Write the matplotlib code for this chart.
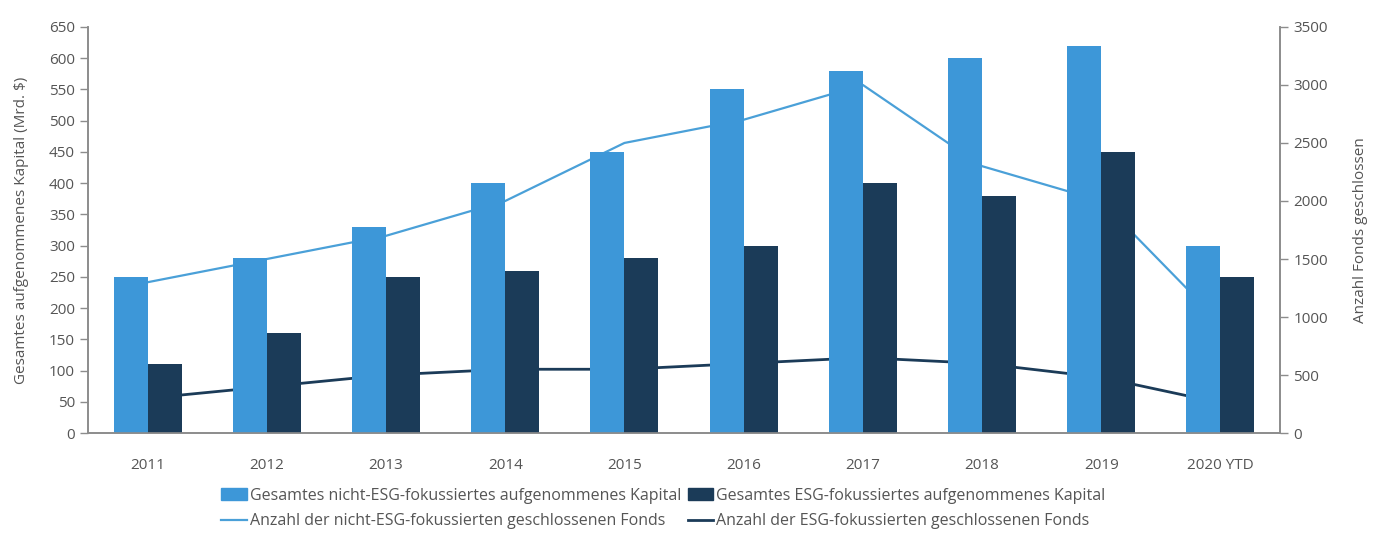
import numpy as np
import matplotlib.pyplot as plt
from matplotlib.patches import Patch
from matplotlib.lines import Line2D

# Daten
jahre = ["2011", "2012", "2013", "2014", "2015", "2016", "2017", "2018", "2019", "2020 YTD"]
kapital_nicht_esg = [250, 280, 330, 400, 450, 550, 580, 600, 620, 300]
kapital_esg = [110, 160, 250, 260, 280, 300, 400, 380, 450, 250]
fonds_nicht_esg = [1300, 1500, 1700, 2000, 2500, 2700, 3000, 2300, 2000, 950]
fonds_esg = [300, 400, 500, 550, 550, 600, 650, 600, 480, 260]

hellblau = "#3d97d8"
dunkelblau = "#1b3b58"
grau = "#8c8c8c"
textfarbe = "#555555"

plt.rcParams['font.family'] = ['Open Sans', 'DejaVu Sans']

fig = plt.figure(figsize=(13.82, 5.38), dpi=100)
ax = fig.add_axes([0.0637, 0.195, 0.8625, 0.755])
ax2 = ax.twinx()

x = np.arange(len(jahre))
breite = 0.285

# Linien hinter den Balken
ax2.plot(x, fonds_nicht_esg, color="#4aa0d8", linewidth=1.6, zorder=1)
ax2.plot(x, fonds_esg, color=dunkelblau, linewidth=2.0, zorder=1)
ax2.set_zorder(0)
ax.set_zorder(1)
ax.patch.set_visible(False)

ax.bar(x - breite / 2, kapital_nicht_esg, width=breite, color=hellblau, zorder=2)
ax.bar(x + breite / 2, kapital_esg, width=breite, color=dunkelblau, zorder=2)

ax.set_xlim(-0.5, len(jahre) - 0.5)
ax.set_ylim(0, 650)
ax.set_yticks(np.arange(0, 651, 50))
ax2.set_ylim(0, 3500)
ax2.set_yticks(np.arange(0, 3501, 500))

ax.set_xticks(x)
ax.set_xticklabels(jahre)

for a in (ax, ax2):
    a.spines["top"].set_visible(False)
    for s in ["left", "right", "bottom"]:
        a.spines[s].set_color(grau)
        a.spines[s].set_linewidth(1.2)
    a.tick_params(axis="y", colors=grau, labelcolor=textfarbe, labelsize=11, length=6, width=1)
ax.tick_params(axis="x", length=0, labelsize=11, labelcolor=textfarbe, pad=18)

ax.set_ylabel("Gesamtes aufgenommenes Kapital (Mrd. $)", fontsize=11, color=textfarbe, labelpad=14)
ax2.set_ylabel("Anzahl Fonds geschlossen", fontsize=11, color=textfarbe, labelpad=18)

handles = [
    Patch(color=hellblau),
    Line2D([], [], color="#4aa0d8", linewidth=1.6),
    Patch(color=dunkelblau),
    Line2D([], [], color=dunkelblau, linewidth=2.0),
]
labels = [
    "Gesamtes nicht-ESG-fokussiertes aufgenommenes Kapital",
    "Anzahl der nicht-ESG-fokussierten geschlossenen Fonds",
    "Gesamtes ESG-fokussiertes aufgenommenes Kapital",
    "Anzahl der ESG-fokussierten geschlossenen Fonds",
]
fig.legend(handles, labels, ncol=2, loc="center", bbox_to_anchor=(0.48, 0.055),
           frameon=False, fontsize=11.5, labelcolor=textfarbe, handlelength=1.6,
           handletextpad=0.2, columnspacing=0.4, labelspacing=0.6)

fig.savefig("out.png", dpi=100)
